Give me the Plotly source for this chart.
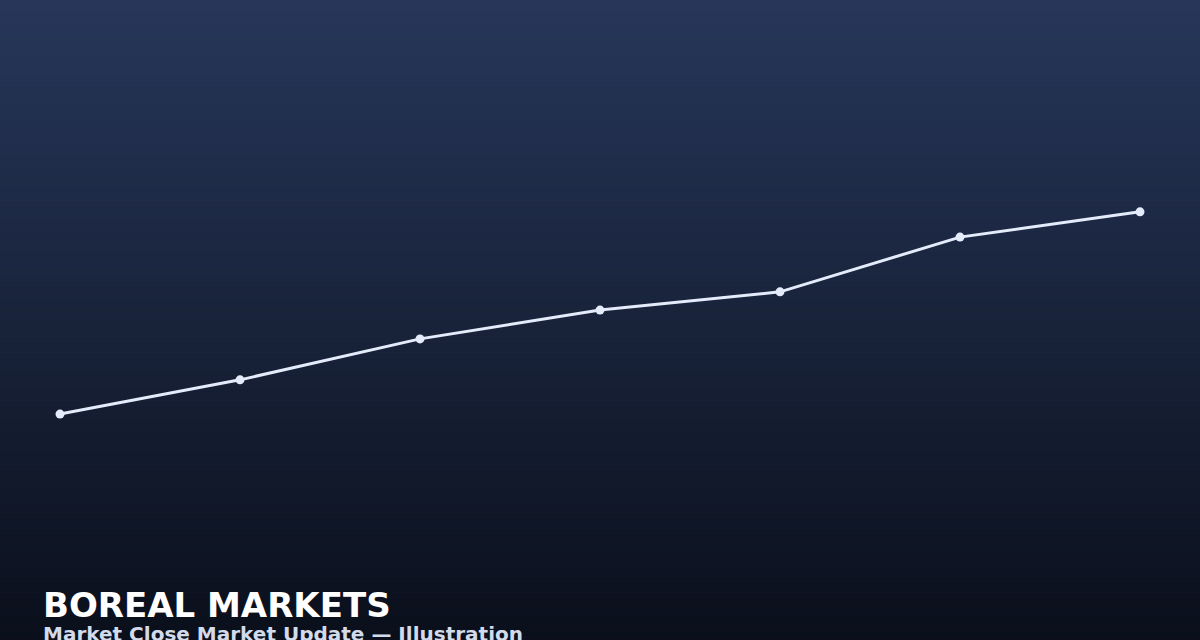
import plotly.graph_objects as go

# Data
sessions = [0, 1, 2, 3, 4, 5, 6]
close_values = [70.6, 81.3, 94.1, 103.1, 108.8, 125.9, 133.8]
title_text = "BOREAL MARKETS"
subtitle_text = "Market Close Market Update \u2014 Illustration"

W, H = 1200, 640
top_rgb = (39, 55, 90)
bot_rgb = (10, 15, 27)

def lerp(a, b, t):
    return int(round(a + (b - a) * t))

shapes = []
bands = 160
for i in range(bands):
    t = (i + 0.5) / bands
    c = tuple(lerp(top_rgb[k], bot_rgb[k], t) for k in range(3))
    y1 = 1 - i / bands
    y0 = 1 - (i + 1) / bands
    shapes.append(dict(type="rect", xref="paper", yref="paper", x0=0, x1=1,
                       y0=y0 - 0.001, y1=y1 + 0.001, line=dict(width=0),
                       fillcolor="rgb(%d,%d,%d)" % c, layer="below"))

fig = go.Figure()
fig.add_trace(go.Scatter(
    x=sessions, y=close_values, mode="lines+markers",
    line=dict(color="#e4ecfb", width=3),
    marker=dict(color="#e4ecfb", size=9),
    hoverinfo="skip", showlegend=False,
))

fig.update_layout(
    width=W, height=H, autosize=False,
    margin=dict(l=0, r=0, t=0, b=0),
    paper_bgcolor="#0b101c", plot_bgcolor="rgba(0,0,0,0)",
    shapes=shapes,
    xaxis=dict(range=[-1/3, 6 + 1/3], visible=False, fixedrange=True),
    yaxis=dict(range=[0, 200], visible=False, fixedrange=True),
    annotations=[
        dict(text="<b>%s</b>" % title_text, xref="paper", yref="paper",
             x=41 / W, y=(H - 605) / H, xanchor="left", yanchor="middle",
             showarrow=False, font=dict(family="DejaVu Sans", size=34, color="#ffffff")),
        dict(text="<b>%s</b>" % subtitle_text, xref="paper", yref="paper",
             x=41 / W, y=(H - 634) / H, xanchor="left", yanchor="middle",
             showarrow=False, font=dict(family="DejaVu Sans", size=20, color="#d3dbea")),
    ],
)

fig.write_html("out.html", config={"displayModeBar": False})

with open("out.html", "r", encoding="utf-8") as f:
    html = f.read()
html = html.replace("<head>", "<head><style>html,body{margin:0;padding:0;overflow:hidden;background:#0b101c;}</style>", 1)
with open("out.html", "w", encoding="utf-8") as f:
    f.write(html)
